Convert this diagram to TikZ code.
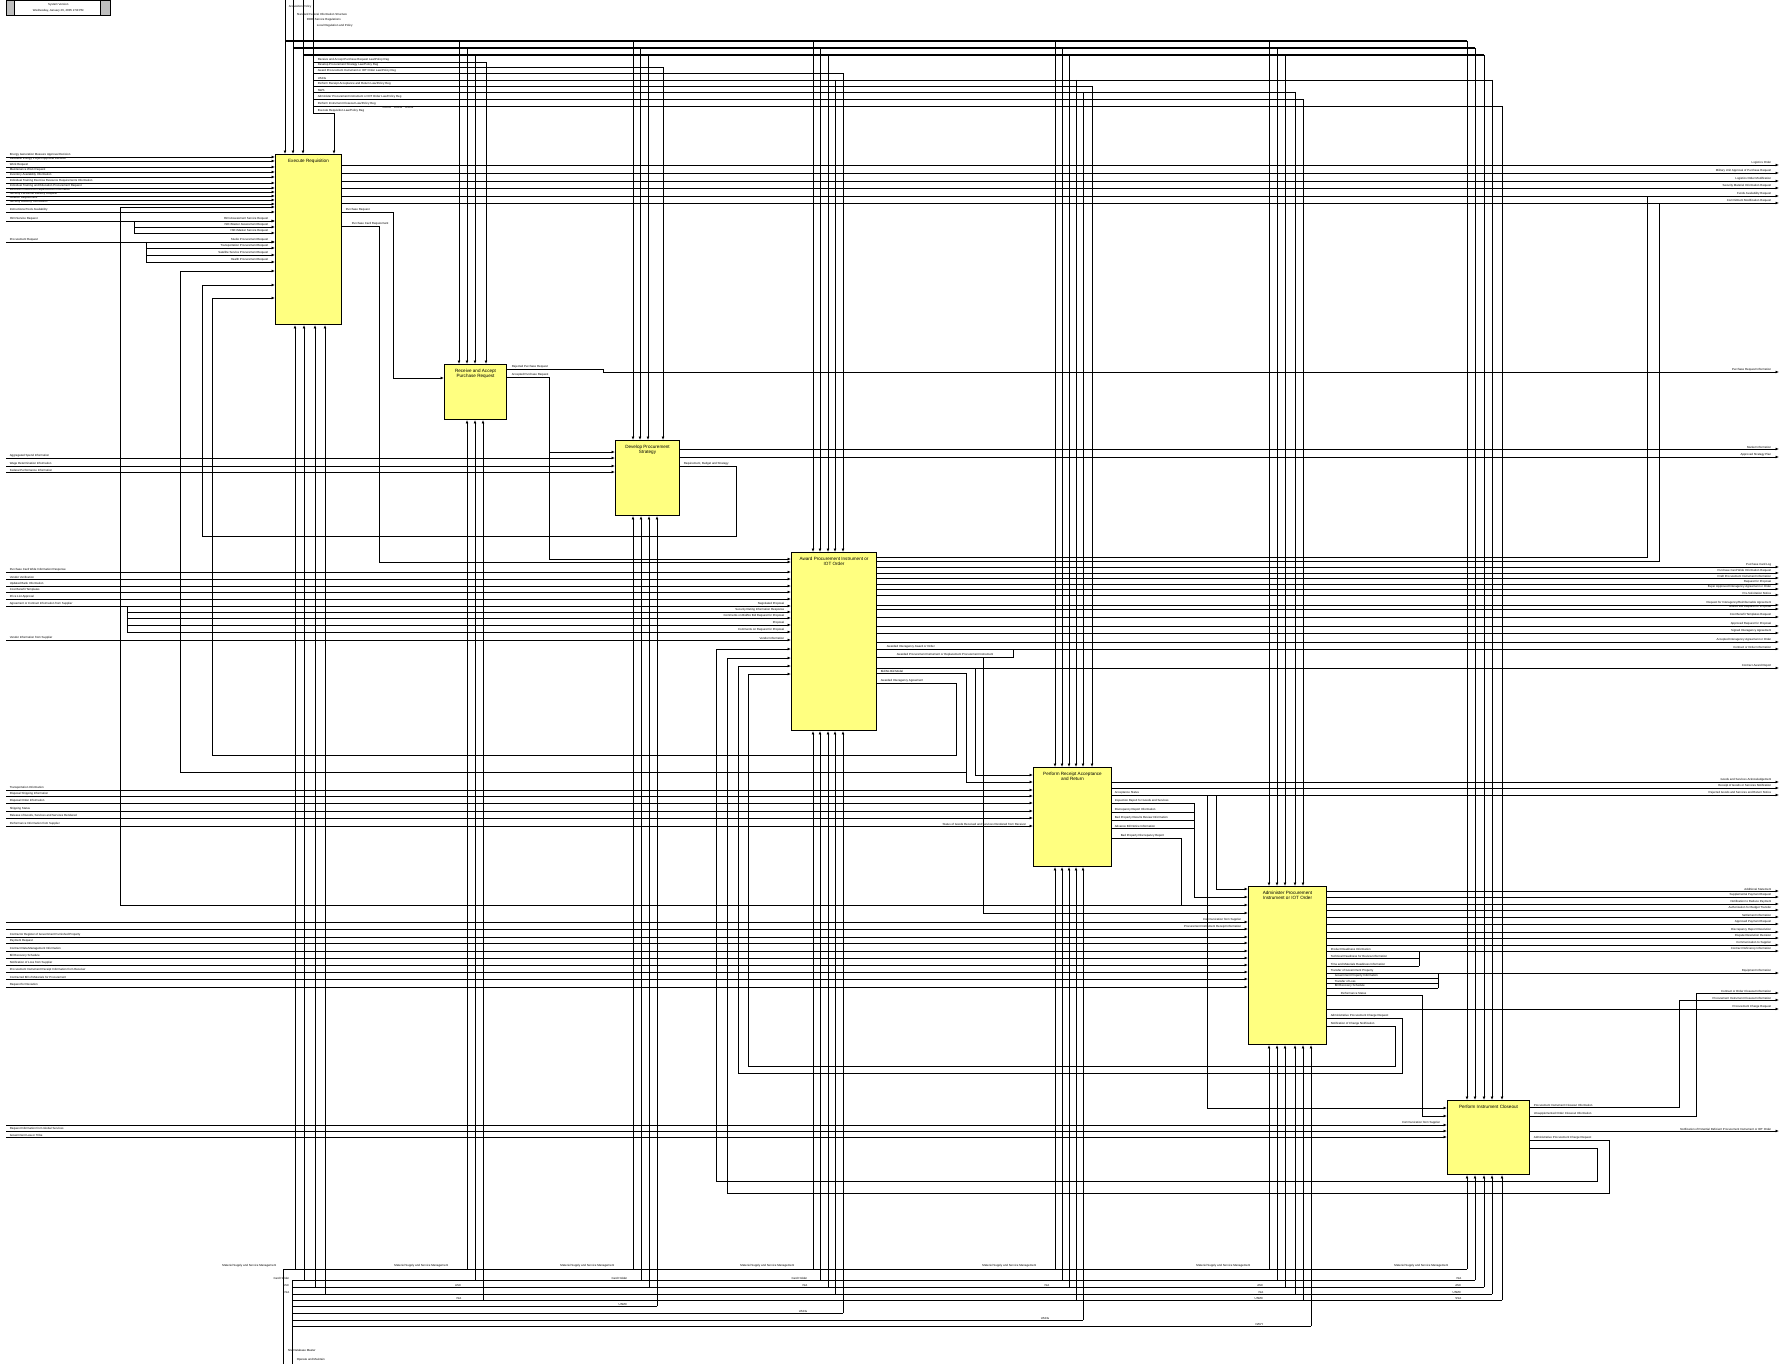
\documentclass[tikz,border=0pt]{standalone}
\usepackage{fontspec}
\setmainfont{Liberation Sans}
\usetikzlibrary{arrows.meta,positioning,calc}
\definecolor{idefYellow}{RGB}{255,255,128}
\definecolor{idefBar}{RGB}{190,190,190}
\newcommand{\lawreg}{Law/Policy Reg}
\newcommand{\msm}{Materiel Supply and Service Management}

\begin{document}
\begin{tikzpicture}[x=1pt,y=-1pt,
  fn/.style={draw=black,line width=1pt,fill=idefYellow,anchor=north west,inner sep=0pt},
  ttl/.style={font=\fontsize{4.6}{5.4}\selectfont,align=center,inner sep=0pt,anchor=north},
  lbl/.style={font=\fontsize{2.9}{3.3}\selectfont,inner sep=0.6pt},
  arr/.style={-{Latex[length=3.4pt,width=2.8pt]},line width=0.8pt},
  ln/.style={line width=0.8pt},
  bus/.style={line width=1.5pt}
]
\useasboundingbox (0,0) rectangle (1781,1364);
\coordinate (lft) at (6,0);
\coordinate (rgt) at (1779,0);

% header
\node[draw,line width=0.6pt,minimum width=104pt,minimum height=15pt,anchor=north west,inner sep=0pt] (hdr) at (6,0) {};
\filldraw[fill=idefBar,line width=0.5pt] (hdr.north west) rectangle ++(8,15);
\filldraw[fill=idefBar,line width=0.5pt] (hdr.north east) rectangle ++(-10,15);
\node[lbl] (hdrV) at ($(hdr.center)+(0,-3.5)$) {System Version};
\node[lbl] (hdrD) at ($(hdr.center)+(0,2.5)$) {Wednesday, January 26, 2005 2:50 PM};

% activities
\node[fn,minimum width=66pt,minimum height=170pt] (exe) at (275,154) {};
\node[fn,minimum width=62pt,minimum height=55pt] (rec) at (444,364) {};
\node[fn,minimum width=64pt,minimum height=75pt] (dev) at (615,440) {};
\node[fn,minimum width=85pt,minimum height=178pt] (awd) at (791,552) {};
\node[fn,minimum width=78pt,minimum height=99pt] (per) at (1033,767) {};
\node[fn,minimum width=78pt,minimum height=158pt] (adm) at (1248,886) {};
\node[fn,minimum width=82pt,minimum height=74pt] (clo) at (1447,1100) {};
\node[ttl] (exeT) at ([yshift=-5pt]exe.north) {Execute Requisition};
\node[ttl] (recT) at ([yshift=-5pt]rec.north) {Receive and Accept\\Purchase Request};
\node[ttl] (devT) at ([yshift=-5pt]dev.north) {Develop Procurement\\Strategy};
\node[ttl] (awdT) at ([yshift=-5pt]awd.north) {Award Procurement Instrument or\\IOT Order};
\node[ttl] (perT) at ([yshift=-5pt]per.north) {Perform Receipt Acceptance\\and Return};
\node[ttl] (admT) at ([yshift=-5pt]adm.north) {Administer Procurement\\Instrument or IOT Order};
\node[ttl] (cloT) at ([yshift=-5pt]clo.north) {Perform Instrument Closeout};

% controls from the top
\foreach \x/\y/\t in {285/7/{Acquisition Policy},293/14/{Standard Federal Information Structure},303/20/{DOD+Service Regulations}}{
  \node[lbl,anchor=west] (ctl\x) at (\x+3,\y) {\t};
  \draw[arr] (\x,0) -- (\x,0 |- exe.north);
}
\node[lbl,anchor=west] (ctl313) at (316,26) {Local Regulation and Policy};
\draw[ln] (313,0) -- (313,113);
\foreach \y/\x/\e in {41/285/1467,48/293/1475,55/303/1484}
  \draw[bus] (\x,\y) -- (\e,\y);
\foreach \b/\xa/\xb/\xc in {rec/459/467/475,dev/633/640/648,awd/813/820/828,per/1055/1062/1069,adm/1269/1277/1285,clo/1467/1475/1484}{
  \draw[arr] (\xa,41) -- (\xa,0 |- \b.north);
  \draw[arr] (\xb,48) -- (\xb,0 |- \b.north);
  \draw[arr] (\xc,55) -- (\xc,0 |- \b.north);
}
\foreach \y/\x/\b/\t in {62/486/rec/{Receive and Accept Purchase Request \lawreg},67/663/dev/{Develop Procurement Strategy \lawreg},73/843/awd/{Award Procurement Instrument or IOT Order \lawreg},86/1092/per/{Perform Receipt Acceptance and Return \lawreg},99/1303/adm/{Administer Procurement Instrument or IOT Order \lawreg},106/1502/clo/{Perform Instrument Closeout \lawreg},113/334/exe/{Execute Requisition \lawreg}}{
  \draw[arr] (313,\y) -- (\x,\y) -- (\x,0 |- \b.north);
  \node[lbl,anchor=south west] (law\y) at (317,\y) {\t};
}
\draw[ln] (313,80) -- (1492,80);
\node[lbl,anchor=south west] (law80) at (317,80) {USCG};
\foreach \x/\b in {835/awd,1076/per,1492/clo}
  \draw[arr] (\x,80) -- (\x,0 |- \b.north);
\draw[ln] (313,92) -- (1295,92);
\node[lbl,anchor=south west] (law92) at (317,92) {NWS};
\foreach \x/\b in {1083/per,1295/adm}
  \draw[arr] (\x,92) -- (\x,0 |- \b.north);
\node[lbl,anchor=north] (uscgT) at (398,106) {USCG\quad USCG\quad USCG};

% inputs of Execute Requisition
\foreach \y/\t in {157/{Energy Generation Measure Approval Decision},161/{Reusable Energy Project Approval Decision},167/{Work Request},172/{Maintenance Work Request},177/{Inventory Availability Information},183/{Individual Training Exercise Resource Requirements Information},188/{Individual Training and Education Procurement Request},192/{Education Resource Requirements Information},196/{Security Personnel Delivery Request},200/{Aviation Requirement},204/{Security Advisory Information},212/{Instructional Tools Availability}}{
  \draw[arr] (lft |- 0,\y) -- (0,\y -| exe.west);
  \node[lbl,anchor=south west] (in\y) at (9,\y) {\t};
}
\draw[arr] (lft |- 0,221) -- (0,221 -| exe.west);
\node[lbl,anchor=south west] (isd) at (9,221) {ISD+Service Request};
\draw[ln] (134,221) -- (134,233);
\foreach \y/\t in {221/{ISD+Assessment Service Request},227/{ISD+Master Assessment Request},233/{ISD+Master Service Request}}{
  \draw[arr] (134,\y) -- (0,\y -| exe.west);
  \node[lbl,anchor=south east] (isd\y) at ([xshift=-6pt]0,\y -| exe.west) {\t};
}
\draw[arr] (lft |- 0,242) -- (0,242 -| exe.west);
\node[lbl,anchor=south west] (prq) at (9,242) {Procurement Request};
\draw[ln] (146,242) -- (146,262);
\foreach \y/\t in {242/{Studio Procurement Request},248/{Transportation Procurement Request},255/{Satellite Service Procurement Request},262/{Health Procurement Request}}{
  \draw[arr] (146,\y) -- (0,\y -| exe.west);
  \node[lbl,anchor=south east] (prq\y) at ([xshift=-6pt]0,\y -| exe.west) {\t};
}

% outputs of Execute Requisition
\foreach \y/\t in {165/{Logistics Order},173/{Military Unit Approval of Purchase Request},181/{Logistics Order Modification},188/{Security Materiel Information Request},196/{Funds Availability Request},203/{Commitment Modification Request}}{
  \draw[arr] (0,\y -| exe.east) -- (rgt |- 0,\y);
  \node[lbl,anchor=south east] (out\y) at (1772,\y) {\t};
}
\draw[arr] (0,212 -| exe.east) -- (393,212) -- (393,378) -- (0,378 -| rec.west);
\node[lbl,anchor=south west] (prqO) at (345,212) {Purchase Request};
\draw[arr] (0,226 -| exe.east) -- (379,226) -- (379,562) -- (0,562 -| awd.west);
\node[lbl,anchor=south west] (pcr) at (351,226) {Purchase Card Requirement};

% Receive and Accept Purchase Request
\draw[arr] (0,369 -| rec.east) -- (603,369) -- (603,372) -- (rgt |- 0,372);
\node[lbl,anchor=south west] (rej) at (511,369) {Rejected Purchase Request};
\node[lbl,anchor=south east] (pri) at (1772,372) {Purchase Request Information};
\draw[arr] (0,377 -| rec.east) -- (549,377) -- (549,452) -- (0,452 -| dev.west);
\draw[arr] (549,452) -- (549,559) -- (0,559 -| awd.west);
\node[lbl,anchor=south west] (acc) at (511,377) {Accepted Purchase Request};

% Develop Procurement Strategy
\foreach \y/\t in {458/{Aggregated Spend Information},466/{Wage Determination Information},472/{Federal Performance Information}}{
  \draw[arr] (lft |- 0,\y) -- (0,\y -| dev.west);
  \node[lbl,anchor=south west] (din\y) at (9,\y) {\t};
}
\foreach \y/\t in {449/{Market Information},457/{Approved Strategy Plan}}{
  \draw[arr] (0,\y -| dev.east) -- (rgt |- 0,\y);
  \node[lbl,anchor=south east] (dout\y) at (1772,\y) {\t};
}
\draw[arr] (0,466 -| dev.east) -- (736,466) -- (736,536) -- (202,536) -- (202,285) -- (0,285 -| exe.west);
\node[lbl,anchor=south west] (rbs) at (683,466) {Requirement, Budget and Strategy};

% Award Procurement Instrument or IOT Order
\foreach \y/\t in {572/{Purchase Card Wide Information Response},579/{Vendor Verification},586/{Updated Bank Information},592/{Cost Benefit Templates},599/{Price List Approval},640/{Vendor Information from Supplier}}{
  \draw[arr] (lft |- 0,\y) -- (0,\y -| awd.west);
  \node[lbl,anchor=south west] (ain\y) at (9,\y) {\t};
}
\draw[arr] (lft |- 0,606) -- (0,606 -| awd.west);
\node[lbl,anchor=south west] (agr) at (9,606) {Agreement or Contract Information from Supplier};
\draw[ln] (127,606) -- (127,632);
\foreach \y in {612,618,625,632}
  \draw[arr] (127,\y) -- (0,\y -| awd.west);
\foreach \y/\t in {606/{Negotiated Proposal},612/{Security Rating Information Response},618/{Comments on Bid/No Bid Request for Proposal},625/{Proposal},632/{Comments on Request for Proposal},640/{Vendor Information}}
  \node[lbl,anchor=south east] (ainB\y) at ([xshift=-6pt]0,\y -| awd.west) {\t};
\foreach \y/\t in {567/{Purchase Card Log},573/{Purchase Card Wide Information Request},578/{Draft Procurement Instrument Information},584/{Request for Proposal},589/{Buyer Approved Interagency Agreement or Order},595/{Pre-Solicitation Notice},605/{Request for Interagency/Reimbursable Agreement},609/{Bid/No Bid Request for Proposal},617/{Cost Benefit Templates Request},626/{Approved Request for Proposal},633/{Signed Interagency Agreement},642/{Accepted Interagency Agreement or Order},649/{Contract or Order Information},668/{Contract Award Report}}{
  \draw[arr] (0,\y -| awd.east) -- (rgt |- 0,\y);
  \node[lbl,anchor=south east] (aout\y) at (1772,\y) {\t};
}
\draw[ln] (0,557 -| awd.east) -- (1647,557) -- (1647,196);
\draw[ln] (0,561 -| awd.east) -- (1659,561) -- (1659,203);
\node[lbl,anchor=south west] (aia) at (886,649) {Awarded Interagency Award or Order};
\draw[ln] (0,657 -| awd.east) -- (1013,657) -- (1013,649);
\node[lbl,anchor=south west] (api) at (896,657) {Awarded Procurement Instrument or Replacement Procurement Instrument};
\draw[arr] (983,657) -- (983,913) -- (0,913 -| adm.west);
\draw[arr] (975,668) -- (975,775) -- (0,775 -| per.west);
\draw[arr] (0,673 -| awd.east) -- (966,673) -- (966,782) -- (0,782 -| per.west);
\node[lbl,anchor=south west] (bnb) at (880,673) {Bid/No Bid Model};
\draw[arr] (966,772) -- (180,772) -- (180,271) -- (0,271 -| exe.west);
\draw[arr] (0,683 -| awd.east) -- (956,683) -- (956,755) -- (212,755) -- (212,298) -- (0,298 -| exe.west);
\node[lbl,anchor=south west] (aag) at (880,683) {Awarded Interagency Agreement};

% Perform Receipt Acceptance and Return
\foreach \y/\t in {790/{Transportation Information},796/{Disposal Shipping Information},803/{Disposal Order Information},811/{Shipping Status},818/{Release of Goods, Services and Services Rendered},826/{Performance Information from Supplier}}{
  \draw[arr] (lft |- 0,\y) -- (0,\y -| per.west);
  \node[lbl,anchor=south west] (pin\y) at (9,\y) {\t};
}
\node[lbl,anchor=south east] (sgr) at ([xshift=-6pt]0,826 -| per.west) {Status of Goods Received and Services Rendered from Receiver};
\foreach \y/\t in {782/{Goods and Services Acknowledgement},788/{Receipt of Goods or Services Notification}}{
  \draw[arr] (0,\y -| per.east) -- (rgt |- 0,\y);
  \node[lbl,anchor=south east] (pout\y) at (1772,\y) {\t};
}
\draw[arr] (0,795 -| per.east) -- (rgt |- 0,795);
\node[lbl,anchor=south east] (rgs) at (1772,795) {Rejected Goods and Services and Return Notice};
\node[lbl,anchor=south west] (acs) at (1114,795) {Acceptance Status};
\draw[arr] (1216,795) -- (1216,889) -- (0,889 -| adm.west);
\draw[arr] (1207,795) -- (1207,1108) -- (0,1108 -| clo.west);
\foreach \y/\t in {803/{Inspection Report for Goods and Services},812/{Discrepancy Report Information},820/{Bad Property Results Review Information},828/{Advance Bill Notice Information}}{
  \draw[ln] (0,\y -| per.east) -- (1194,\y);
  \node[lbl,anchor=south west] (pm\y) at (1114,\y) {\t};
}
\draw[arr] (1194,803) -- (1194,897) -- (0,897 -| adm.west);
\draw[ln] (0,838 -| per.east) -- (1181,838) -- (1181,905);
\node[lbl,anchor=south west] (bpd) at (1120,838) {Bad Property Discrepancy Report};
\draw[arr] (1181,905) -- (0,905 -| adm.west);
\draw[arr] (1181,905) -- (120,905) -- (120,207) -- (0,207 -| exe.west);

% Administer Procurement Instrument or IOT Order
\foreach \y/\t in {922/{Communication from Supplier},929/{Procurement Instrument Receipt Information}}{
  \draw[arr] (lft |- 0,\y) -- (0,\y -| adm.west);
  \node[lbl,anchor=south east] (mB\y) at ([xshift=-6pt]0,\y -| adm.west) {\t};
}
\foreach \y/\t in {937/{Contractor Register of Government Furnished Property},943/{Payment Request},951/{Contract Data Management Information},958/{Bill Recovery Schedule},965/{Notification of Loss from Supplier},972/{Procurement Instrument Receipt Information from Receiver},979/{Contracted Bill of Materials for Procurement},987/{Request for Deviation}}{
  \draw[arr] (lft |- 0,\y) -- (0,\y -| adm.west);
  \node[lbl,anchor=south west] (min\y) at (9,\y) {\t};
}
\foreach \y/\t in {891/{Additional Statement},897/{Supplemental Payment Request},904/{Notification to Reduce Payment},910/{Authorization for Budget Transfer},917/{Settlement Information},924/{Approved Payment Request},932/{Discrepancy Report Resolution},938/{Dispute Resolution Decision},945/{Communication to Supplier},951/{Contract Deficiency Information},973/{Equipment Information},1009/{Procurement Charge Request}}{
  \draw[arr] (0,\y -| adm.east) -- (rgt |- 0,\y);
  \node[lbl,anchor=south east] (mout\y) at (1772,\y) {\t};
}
\node[lbl,anchor=south west] (prd) at (1330,951) {Product Readiness Information};
\foreach \y/\t in {958/{Technical Readiness for Review Information},966/{Time and Materials Readiness Information}}{
  \draw[ln] (0,\y -| adm.east) -- (1419,\y);
  \node[lbl,anchor=south west] (rd\y) at (1330,\y) {\t};
}
\draw[ln] (1419,966) -- (1419,951);
\node[lbl,anchor=south west] (tgp) at (1330,973) {Transfer of Government Property};
\foreach \y/\t in {978/{Government Property Information},983/{Transfer of Loss},988/{Bill Recovery Schedule}}{
  \draw[ln] (0,\y -| adm.east) -- (1438,\y);
  \node[lbl,anchor=south west] (gp\y) at (1334,\y) {\t};
}
\draw[ln] (1438,988) -- (1438,973);
\draw[arr] (0,995 -| adm.east) -- (1422,995) -- (1422,1116) -- (0,1116 -| clo.west);
\node[lbl,anchor=south west] (pst) at (1340,995) {Performance Status};
\draw[arr] (0,1018 -| adm.east) -- (1402,1018) -- (1402,1073) -- (738,1073) -- (738,666) -- (0,666 -| awd.west);
\node[lbl,anchor=south west] (apc) at (1330,1018) {Administrative Procurement Charge Request};
\draw[arr] (0,1026 -| adm.east) -- (1395,1026) -- (1395,1066) -- (748,1066) -- (748,674) -- (0,674 -| awd.west);
\node[lbl,anchor=south west] (ncn) at (1330,1026) {Notification of Change Notification};

% Perform Instrument Closeout
\draw[arr] (lft |- 0,1125) -- (0,1125 -| clo.west);
\node[lbl,anchor=south east] (cfs) at ([xshift=-6pt]0,1125 -| clo.west) {Communication from Supplier};
\foreach \y/\t in {1131/{Request Information from Global Services},1137/{Government Law or Tribe}}{
  \draw[arr] (lft |- 0,\y) -- (0,\y -| clo.west);
  \node[lbl,anchor=south west] (cin\y) at (9,\y) {\t};
}
\draw[arr] (0,1107 -| clo.east) -- (1679,1107) -- (1679,1000) -- (rgt |- 0,1000);
\node[lbl,anchor=south west] (pic) at (1533,1107) {Procurement Instrument Closeout Information};
\node[lbl,anchor=south east] (picE) at (1772,1000) {Procurement Instrument Closeout Information};
\draw[arr] (0,1116 -| clo.east) -- (1696,1116) -- (1696,993) -- (rgt |- 0,993);
\node[lbl,anchor=south west] (uoc) at (1533,1116) {Unsupplemented Order Closeout Information};
\node[lbl,anchor=south east] (uocE) at (1772,993) {Contract or Order Closeout Information};
\draw[arr] (0,1131 -| clo.east) -- (rgt |- 0,1131);
\node[lbl,anchor=south east] (npd) at (1772,1131) {Notification of Potential Deficient Procurement Instrument or IOT Order};
\draw[arr] (0,1140 -| clo.east) -- (1609,1140) -- (1609,1193) -- (727,1193) -- (727,658) -- (0,658 -| awd.west);
\node[lbl,anchor=south west] (apcC) at (1533,1140) {Administrative Procurement Charge Request};
\draw[arr] (0,1148 -| clo.east) -- (1597,1148) -- (1597,1181) -- (716,1181) -- (716,649) -- (0,649 -| awd.west);

% mechanisms from the bottom
\draw[ln] (283,1364) -- (283,1269) -- (1467,1269);
\draw[ln] (292,1364) -- (292,1280);
\node[lbl,anchor=west] (mSite) at (287,1350) {Site Database Master};
\node[lbl,anchor=west] (mOper) at (296,1360) {Operate and Maintain};
\foreach \y/\e in {1280/1475,1287/1484,1294/1492,1300/1502,1306/657,1313/843,1320/1083,1326/1311}
  \draw[ln] (292,\y) -- (\e,\y);
\foreach \b/\x/\y in {exe/295/1269,exe/304/1280,exe/315/1287,exe/325/1294,rec/467/1269,rec/475/1280,rec/483/1300,dev/633/1269,dev/641/1280,dev/649/1287,dev/657/1306,awd/813/1269,awd/820/1280,awd/828/1287,awd/835/1294,awd/843/1313,per/1055/1269,per/1062/1280,per/1069/1287,per/1076/1300,per/1083/1320,adm/1269/1269,adm/1277/1280,adm/1285/1287,adm/1295/1294,adm/1303/1300,adm/1311/1326,clo/1467/1269,clo/1475/1280,clo/1484/1287,clo/1492/1294,clo/1502/1300}
  \draw[arr] (\x,\y) -- (\x,0 |- \b.south);
\foreach \x in {295,467,633,813,1055,1269,1467}
  \node[lbl,anchor=south east] (msm\x) at (\x-18,1268) {\msm};
\foreach \x/\y/\t in {295/1280/{Card Holder},295/1287/ASC,295/1294/ISA,467/1287/ASC,467/1300/ISA,633/1280/{Card Holder},633/1306/USMC,813/1280/{Card Holder},813/1287/ISA,813/1313/USCG,1055/1287/ISA,1055/1320/USCG,1269/1287/ASC,1269/1294/ISA,1269/1300/USMC,1269/1326/NAVY,1467/1280/ISA,1467/1287/ASC,1467/1294/USMC,1467/1300/SSA}
  \node[lbl,anchor=south east] (mk\x\y) at (\x-5,\y) {\t};
\end{tikzpicture}
\end{document}
